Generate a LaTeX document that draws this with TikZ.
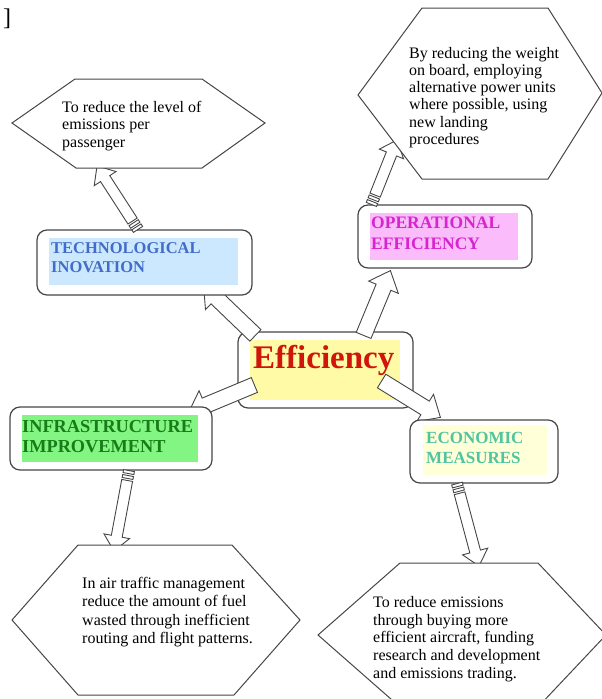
\documentclass[tikz,border=0pt]{standalone}
\usepackage{fontspec}
\setmainfont{Liberation Serif}
\usetikzlibrary{calc}

\definecolor{edge}{RGB}{70,70,70}
\definecolor{techink}{RGB}{66,108,200}
\definecolor{techbg}{RGB}{204,232,255}
\definecolor{operink}{RGB}{214,36,206}
\definecolor{operbg}{RGB}{250,188,250}
\definecolor{infraink}{RGB}{24,124,24}
\definecolor{infrabg}{RGB}{130,245,130}
\definecolor{econink}{RGB}{80,196,160}
\definecolor{econbg}{RGB}{255,255,216}
\definecolor{coreink}{RGB}{208,22,12}
\definecolor{corebg}{RGB}{255,250,165}

\pgfdeclarelayer{base}
\pgfdeclarelayer{links}
\pgfdeclarelayer{ties}
\pgfdeclarelayer{top}
\pgfsetlayers{base,links,main,ties,top}

% block arrow: #1 tail, #2 tip, #3 half shaft width, #4 half head width, #5 head length
\newcommand{\fatarrow}[5]{%
  \coordinate (fa-h) at ($(#2)!#5!(#1)$);
  \draw[arrowbody]
    ($(#1)!#3!90:(#2)$) -- ($(fa-h)!#3!90:(#2)$) -- ($(fa-h)!#4!90:(#2)$) --
    (#2) --
    ($(fa-h)!#4!-90:(#2)$) -- ($(fa-h)!#3!-90:(#2)$) -- ($(#1)!#3!-90:(#2)$) -- cycle;
}
% block arrow with two stripes at its tail
\newcommand{\stripedarrow}[5]{%
  \coordinate (sa-a) at ($(#1)!3pt!(#2)$);
  \coordinate (sa-b) at ($(#1)!5pt!(#2)$);
  \coordinate (sa-c) at ($(#1)!8pt!(#2)$);
  \coordinate (sa-d) at ($(#1)!10pt!(#2)$);
  \draw[arrowbody]
    ($(#1)!#3!90:(#2)$) -- ($(sa-a)!#3!90:(#2)$) -- ($(sa-a)!#3!-90:(#2)$) -- ($(#1)!#3!-90:(#2)$) -- cycle;
  \draw[arrowbody]
    ($(sa-b)!#3!90:(#2)$) -- ($(sa-c)!#3!90:(#2)$) -- ($(sa-c)!#3!-90:(#2)$) -- ($(sa-b)!#3!-90:(#2)$) -- cycle;
  \fatarrow{sa-d}{#2}{#3}{#4}{#5}
}

\tikzset{
  arrowbody/.style={draw=edge, fill=white, line width=0.9pt, line join=miter},
  box/.style={draw=edge, fill=white, line width=1.2pt, rounded corners=10pt,
    inner sep=0pt, minimum width=#1},
  hexa/.style={draw=edge, fill=white, line width=1pt, line join=miter},
  hextext/.style={anchor=north west, inner sep=0pt, align=left, text=black,
    font=\fontsize{16}{17.5}\selectfont},
  tag/.style={anchor=north west, inner sep=0pt, align=left,
    font=\bfseries\fontsize{17}{20}\selectfont},
}

\begin{document}
\begin{tikzpicture}[x=1pt, y=-1pt]
\useasboundingbox (0,0) rectangle (602,699);
\clip (0,0) rectangle (602,699);

\node[anchor=base west, inner sep=0pt, font=\fontsize{24}{26}\selectfont] (bracket) at (3,25) {]};

% central box
\begin{pgfonlayer}{base}
  \node[box=175pt, minimum height=76pt] (core) at (325.5,370) {};
  \fill[corebg] (250,340) rectangle (400,400);
  \node[anchor=base west, inner sep=0pt, text=coreink,
    font=\bfseries\fontsize{33}{36}\selectfont] (coretxt) at (253,368) {Efficiency};
\end{pgfonlayer}

% the four category boxes
\node[box=215pt, minimum height=65pt] (tech) at (144.5,262.5) {};
\fill[techbg] (49,238) rectangle (238,285);
\node[tag, text=techink, font=\bfseries\fontsize{16.5}{19}\selectfont] (techtxt) at (51,242)
  {TECHNOLOGICAL\\INOVATION};

\node[box=174pt, minimum height=63pt] (oper) at (445,236.5) {};
\fill[operbg] (370,213) rectangle (518,260);
\node[tag, text=operink, font=\bfseries\fontsize{17.5}{21}\selectfont] (opertxt) at (371,216.5)
  {OPERATIONAL\\EFFICIENCY};

\node[box=202pt, minimum height=63pt] (infra) at (111,438.5) {};
\fill[infrabg] (22,415) rectangle (198,462);
\node[tag, text=infraink, font=\bfseries\fontsize{18.3}{20}\selectfont] (infratxt) at (22,420)
  {INFRASTRUCTURE\\IMPROVEMENT};

\node[box=148pt, minimum height=63pt] (econ) at (484,451.5) {};
\fill[econbg] (423,425) rectangle (547,475);
\node[tag, text=econink] (econtxt) at (426,431.7)
  {ECONOMIC\\MEASURES};

% arrows leaving the central box
\begin{pgfonlayer}{links}
  \coordinate (c1) at ([shift={(18,4)}]core.north west);
  \coordinate (t1) at ([shift={(-49,-10)}]tech.south east);
  \fatarrow{c1}{t1}{8pt}{16pt}{18pt}
  \coordinate (c2) at ([shift={(-50,4)}]core.north east);
  \coordinate (t2) at ([shift={(33,2)}]oper.south west);
  \fatarrow{c2}{t2}{8pt}{16pt}{18pt}
  \coordinate (c3) at ([shift={(17,15)}]core.west);
  \coordinate (t3) at ([shift={(-24,6)}]infra.north east);
  \fatarrow{c3}{t3}{8pt}{16pt}{18pt}
  \coordinate (c4) at ([shift={(-32,11)}]core.east);
  \coordinate (t4) at ([shift={(31,-2)}]econ.north west);
  \fatarrow{c4}{t4}{8pt}{16pt}{18pt}
\end{pgfonlayer}

% striped arrows from each category to its description
\begin{pgfonlayer}{ties}
  \coordinate (s1) at ([xshift=-6.5]tech.north);
  \coordinate (e1) at (97,166);
  \stripedarrow{s1}{e1}{5.5pt}{13pt}{15pt}
  \coordinate (s2) at ([xshift=14]oper.north west);
  \coordinate (e2) at (397,140);
  \stripedarrow{s2}{e2}{5.5pt}{13pt}{15pt}
  \coordinate (s3) at ([xshift=18]infra.south);
  \coordinate (e3) at (114,551);
  \stripedarrow{s3}{e3}{5.5pt}{13pt}{15pt}
  \coordinate (s4) at ([xshift=-27]econ.south);
  \coordinate (e4) at (479,566);
  \stripedarrow{s4}{e4}{5.5pt}{13pt}{15pt}
\end{pgfonlayer}

% description hexagons
\begin{pgfonlayer}{top}
  \draw[hexa] (12,123) -- (75,79) -- (202,79) -- (265,123) -- (202,168) -- (76,168) -- cycle;
  \node[hextext] (techinfo) at (62,101)
    {To reduce the level of\\emissions per\\passenger};

  \draw[hexa] (358,95) -- (422,8) -- (548,8) -- (602,93) -- (548,179) -- (422,179) -- cycle;
  \node[hextext, font=\fontsize{16}{17.2}\selectfont] (operinfo) at (409,47)
    {By reducing the weight\\on board, employing\\alternative power units\\where possible, using\\new landing\\procedures};

  \draw[hexa] (12,620) -- (78,545) -- (232,545) -- (300,620) -- (234,695) -- (78,695) -- cycle;
  \node[hextext, font=\fontsize{16}{18.3}\selectfont] (infrainfo) at (82,577)
    {In air traffic management\\reduce the amount of fuel\\wasted through inefficient\\routing and flight patterns.};

  \draw[hexa] (318,635) -- (400,563) -- (538,563) -- (606,635) -- (538,707) -- (400,707) -- cycle;
  \node[hextext, font=\fontsize{16}{17.8}\selectfont] (econinfo) at (373,596)
    {To reduce emissions\\through buying more\\efficient aircraft, funding\\research and development\\and emissions trading.};
\end{pgfonlayer}
\end{tikzpicture}
\end{document}
